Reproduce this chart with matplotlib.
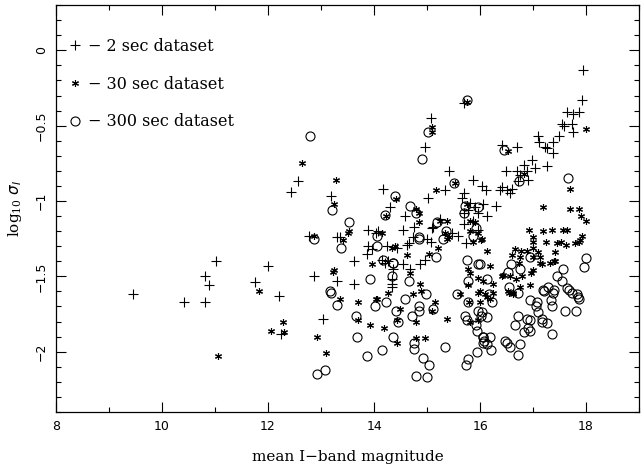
import numpy as np
import matplotlib.pyplot as plt
from matplotlib.lines import Line2D

# 2 sec dataset (+)
x2 = [9.45, 10.42, 10.81, 10.81, 10.89, 11.02, 11.75, 11.99, 12.21, 12.25,
      12.87, 12.78, 13.03, 12.43, 12.57, 13.18, 13.31, 13.63, 13.30, 13.62,
      17.94, 17.92, 17.64, 17.76, 17.86, 17.54, 17.59, 17.74, 17.76, 17.48,
      17.38, 17.10, 17.12, 17.23, 17.27, 17.37, 16.69, 16.42, 16.98, 17.04,
      17.27, 16.82, 16.88, 16.49, 16.70, 16.75, 16.91, 16.72, 16.41, 16.50,
      16.60, 16.38, 16.57, 16.11, 16.03, 15.87, 15.42, 15.34, 15.69, 15.66,
      14.16, 15.02, 16.31, 15.70, 15.07, 14.96, 14.30, 14.58, 14.75, 14.54,
      13.89, 14.08, 13.35, 15.81, 15.91, 16.06, 15.97, 16.13, 15.78, 15.69,
      15.87, 15.70, 15.97, 15.12, 15.25, 14.04, 14.24, 14.43, 13.89, 13.86,
      14.65, 14.74, 14.99, 15.07, 15.09, 15.47, 15.59, 15.74, 14.55, 14.87,
      14.96, 14.15, 14.21, 14.36, 14.33, 14.33, 13.96, 14.27, 14.33, 14.68,
      14.62]
y2 = [-1.62, -1.67, -1.67, -1.50, -1.56, -1.40, -1.54, -1.43, -1.63, -1.88,
      -1.50, -1.23, -1.78, -0.94, -0.87, -0.97, -1.24, -1.40, -1.53, -1.55,
      -0.13, -0.33, -0.41, -0.42, -0.41, -0.49, -0.50, -0.49, -0.54, -0.57,
      -0.61, -0.57, -0.61, -0.64, -0.65, -0.68, -0.64, -0.63, -0.73, -0.78,
      -0.77, -0.76, -0.80, -0.80, -0.80, -0.83, -0.86, -0.87, -0.91, -0.93,
      -0.92, -0.93, -0.95, -0.93, -0.90, -0.86, -0.80, -0.93, -0.95, -0.98,
      -0.92, -0.98, -1.03, -0.35, -0.45, -0.64, -1.04, -1.10, -1.17, -1.19,
      -1.19, -1.20, -1.24, -1.01, -1.04, -1.02, -1.08, -1.10, -1.06, -1.08,
      -1.13, -1.15, -1.19, -1.17, -1.12, -1.21, -1.30, -1.31, -1.30, -1.35,
      -1.28, -1.24, -1.25, -1.27, -1.18, -1.21, -1.23, -1.28, -1.42, -1.42,
      -1.39, -1.39, -1.41, -1.45, -1.55, -1.57, -1.32, -1.40, -1.52, -1.45,
      -1.29]

# 30 sec dataset (*)
x30 = [11.82, 12.05, 12.28, 12.31, 11.06, 12.93, 13.09, 12.86, 12.65, 13.28,
       13.25, 13.52, 13.42, 13.25, 13.36, 13.70, 13.70, 15.10, 15.10, 15.75,
       16.52, 18.00, 17.69, 17.19, 17.69, 17.86, 17.91, 18.00, 16.93, 17.19,
       17.35, 17.57, 17.64, 17.92, 15.17, 15.53, 14.41, 13.50, 14.15, 14.23,
       15.37, 16.82, 15.75, 16.03, 14.79, 14.84, 17.00, 17.00, 17.25, 17.46,
       17.52, 17.62, 17.79, 17.89, 17.86, 16.66, 16.77, 16.88, 17.00, 17.10,
       17.13, 17.42, 17.42, 17.32, 17.16, 17.00, 16.97, 16.80, 16.68, 16.75,
       16.94, 16.74, 16.60, 16.41, 16.53, 16.63, 16.13, 16.19, 16.25, 16.00,
       16.13, 16.25, 14.87, 14.88, 14.74, 14.27, 14.04, 15.15, 15.09, 14.49,
       14.43, 14.80, 15.37, 13.92, 14.18, 14.43, 14.80, 14.96, 14.68, 15.62,
       15.80, 15.97, 16.00, 15.97, 15.81, 15.78, 15.81, 15.97, 13.23, 14.05,
       15.78, 16.06, 16.09, 16.18, 16.43, 16.57, 16.55, 16.63, 17.13, 17.40,
       17.00, 16.75, 15.34, 15.38, 15.25, 14.85, 14.33, 14.40, 14.63, 15.04,
       15.21, 15.42, 15.81, 15.91, 15.81, 15.86, 15.97, 16.01, 13.97]
y30 = [-1.60, -1.86, -1.80, -1.87, -2.03, -1.90, -2.01, -1.23, -0.75, -0.86,
       -1.02, -1.20, -1.26, -1.46, -1.65, -1.67, -1.79, -0.51, -0.54, -0.34,
       -0.67, -0.52, -0.92, -1.04, -1.05, -1.05, -1.10, -1.13, -1.19, -1.20,
       -1.19, -1.19, -1.19, -1.23, -0.93, -0.88, -0.99, -1.21, -1.21, -1.10,
       -1.13, -0.82, -1.02, -1.25, -1.05, -1.08, -1.24, -1.27, -1.27, -1.28,
       -1.27, -1.29, -1.28, -1.26, -1.27, -1.32, -1.33, -1.33, -1.31, -1.34,
       -1.37, -1.34, -1.40, -1.41, -1.42, -1.46, -1.48, -1.50, -1.52, -1.57,
       -1.56, -1.41, -1.36, -1.50, -1.60, -1.62, -1.33, -1.43, -1.55, -1.60,
       -1.64, -1.61, -1.55, -1.60, -1.62, -1.61, -1.65, -1.67, -1.73, -1.72,
       -1.79, -1.80, -1.78, -1.82, -1.84, -1.94, -1.91, -1.91, -1.48, -1.62,
       -1.67, -1.61, -1.67, -1.79, -1.80, -1.56, -1.48, -1.51, -1.47, -1.65,
       -1.45, -1.53, -1.62, -1.65, -1.49, -1.50, -1.61, -1.61, -1.41, -1.40,
       -1.37, -1.37, -1.21, -1.25, -1.13, -1.14, -1.31, -1.30, -1.36, -1.35,
       -1.31, -1.24, -1.13, -1.14, -1.20, -1.27, -1.21, -1.26, -1.42]

# 300 sec dataset (o)
x300 = [12.92, 13.08, 12.86, 13.17, 12.79, 13.20, 13.52, 13.38, 13.18, 13.31,
        13.66, 13.67, 15.75, 15.01, 14.90, 16.45, 16.74, 17.65, 15.51, 14.40,
        14.21, 14.67, 14.79, 15.18, 15.97, 15.72, 15.70, 15.92, 15.36, 15.86,
        14.05, 14.85, 15.31, 15.17, 14.84, 14.05, 14.36, 14.17, 15.76, 15.97,
        13.92, 14.02, 14.23, 14.33, 14.65, 14.58, 14.42, 14.46, 14.71, 14.84,
        14.85, 14.98, 15.11, 14.36, 14.15, 13.87, 14.75, 14.75, 14.92, 15.04,
        14.80, 14.99, 15.33, 15.57, 15.78, 15.78, 15.97, 16.01, 15.72, 15.75,
        15.92, 15.95, 16.05, 16.06, 15.94, 15.78, 15.74, 16.22, 16.13, 16.03,
        16.06, 16.19, 16.08, 16.14, 16.20, 16.47, 16.50, 16.57, 16.75, 16.72,
        16.65, 16.71, 16.94, 17.08, 17.06, 17.10, 16.88, 16.94, 17.16, 17.16,
        17.27, 16.91, 16.95, 16.83, 17.35, 17.21, 17.38, 17.34, 17.35, 17.60,
        17.81, 17.67, 17.82, 17.87, 17.85, 18.00, 17.97, 17.57, 17.46, 17.54,
        17.64, 17.73, 17.40, 17.29, 17.19, 16.94, 16.75, 16.53, 16.58, 16.72,
        16.55, 16.13, 16.16, 16.00, 14.35]
y300 = [-2.15, -2.12, -1.25, -1.60, -0.57, -1.06, -1.14, -1.31, -1.61, -1.69,
        -1.76, -1.90, -0.33, -0.54, -0.72, -0.66, -0.87, -0.85, -0.88, -0.97,
        -1.09, -1.03, -1.08, -1.14, -1.04, -1.03, -1.08, -1.18, -1.20, -1.23,
        -1.23, -1.24, -1.25, -1.37, -1.25, -1.30, -1.41, -1.39, -1.39, -1.42,
        -1.52, -1.70, -1.67, -1.50, -1.53, -1.65, -1.73, -1.80, -1.76, -1.70,
        -1.73, -1.62, -1.72, -1.90, -1.99, -2.03, -1.94, -1.98, -2.04, -2.09,
        -2.16, -2.17, -1.97, -1.62, -1.53, -1.67, -1.73, -1.76, -1.76, -1.79,
        -1.82, -1.86, -1.90, -1.94, -2.00, -2.05, -2.09, -1.67, -1.77, -1.74,
        -1.90, -1.90, -1.93, -1.95, -1.99, -1.93, -1.94, -1.97, -1.95, -2.02,
        -1.82, -1.76, -1.66, -1.67, -1.70, -1.74, -1.78, -1.79, -1.78, -1.80,
        -1.81, -1.84, -1.86, -1.87, -1.88, -1.60, -1.61, -1.66, -1.70, -1.73,
        -1.73, -1.59, -1.62, -1.65, -1.64, -1.38, -1.44, -1.45, -1.50, -1.53,
        -1.58, -1.61, -1.59, -1.57, -1.59, -1.37, -1.45, -1.47, -1.42, -1.61,
        -1.57, -1.52, -1.62, -1.42, -1.41]

labels = ['\u2212 2 sec dataset', '\u2212 30 sec dataset', '\u2212 300 sec dataset']

fig = plt.figure(figsize=(6.41, 4.66), dpi=100)
ax = fig.add_axes([0.0874, 0.116, 0.9096, 0.873])

asterisk = (6, 2, 0)
ax.plot(x2, y2, ls='none', marker='+', ms=7, mew=0.8, color='k')
ax.plot(x30, y30, ls='none', marker=asterisk, ms=5, mew=0.8, color='k')
ax.plot(x300, y300, ls='none', marker='o', ms=6.5, mew=0.8, mfc='none', mec='k')

ax.set_xlim(8, 19)
ax.set_ylim(-2.4, 0.3)
ax.set_xticks([8, 10, 12, 14, 16, 18])
ax.set_xticks(np.arange(8, 20, 1), minor=True)
ax.set_yticks([-2, -1.5, -1, -0.5, 0])
ax.set_yticklabels(['\u22122', '\u22121.5', '\u22121', '\u22120.5', '0'])
ax.set_yticks(np.arange(-2.4, 0.31, 0.1), minor=True)
ax.tick_params(which='both', direction='in', top=True, right=True,
               labelsize=9, width=0.8)
ax.tick_params(which='major', length=7)
ax.tick_params(which='minor', length=3.5)
ax.tick_params(axis='x', pad=6)
ax.tick_params(axis='y', pad=6)
for t in ax.get_yticklabels():
    t.set_rotation(90)
    t.set_va('center')
for s in ax.spines.values():
    s.set_linewidth(0.9)

ax.set_xlabel('mean I\u2212band magnitude', family='DejaVu Serif',
              fontsize=11, labelpad=12)
ax.set_ylabel(r'$\mathregular{log_{10}}\ \sigma_I$', family='DejaVu Serif',
              fontsize=11, labelpad=8)

handles = [Line2D([], [], ls='none', marker='+', ms=7, mew=0.8, color='k'),
           Line2D([], [], ls='none', marker=asterisk, ms=5, mew=0.8, color='k'),
           Line2D([], [], ls='none', marker='o', ms=6.5, mew=0.8, mfc='none', mec='k')]
ax.legend(handles, labels, loc='upper left', frameon=False,
          prop={'family': 'DejaVu Serif', 'size': 11.5},
          handlelength=0.6, handletextpad=0.5, labelspacing=1.3,
          borderaxespad=0.5, bbox_to_anchor=(0.0, 0.955))

fig.savefig('out.png', dpi=100)
